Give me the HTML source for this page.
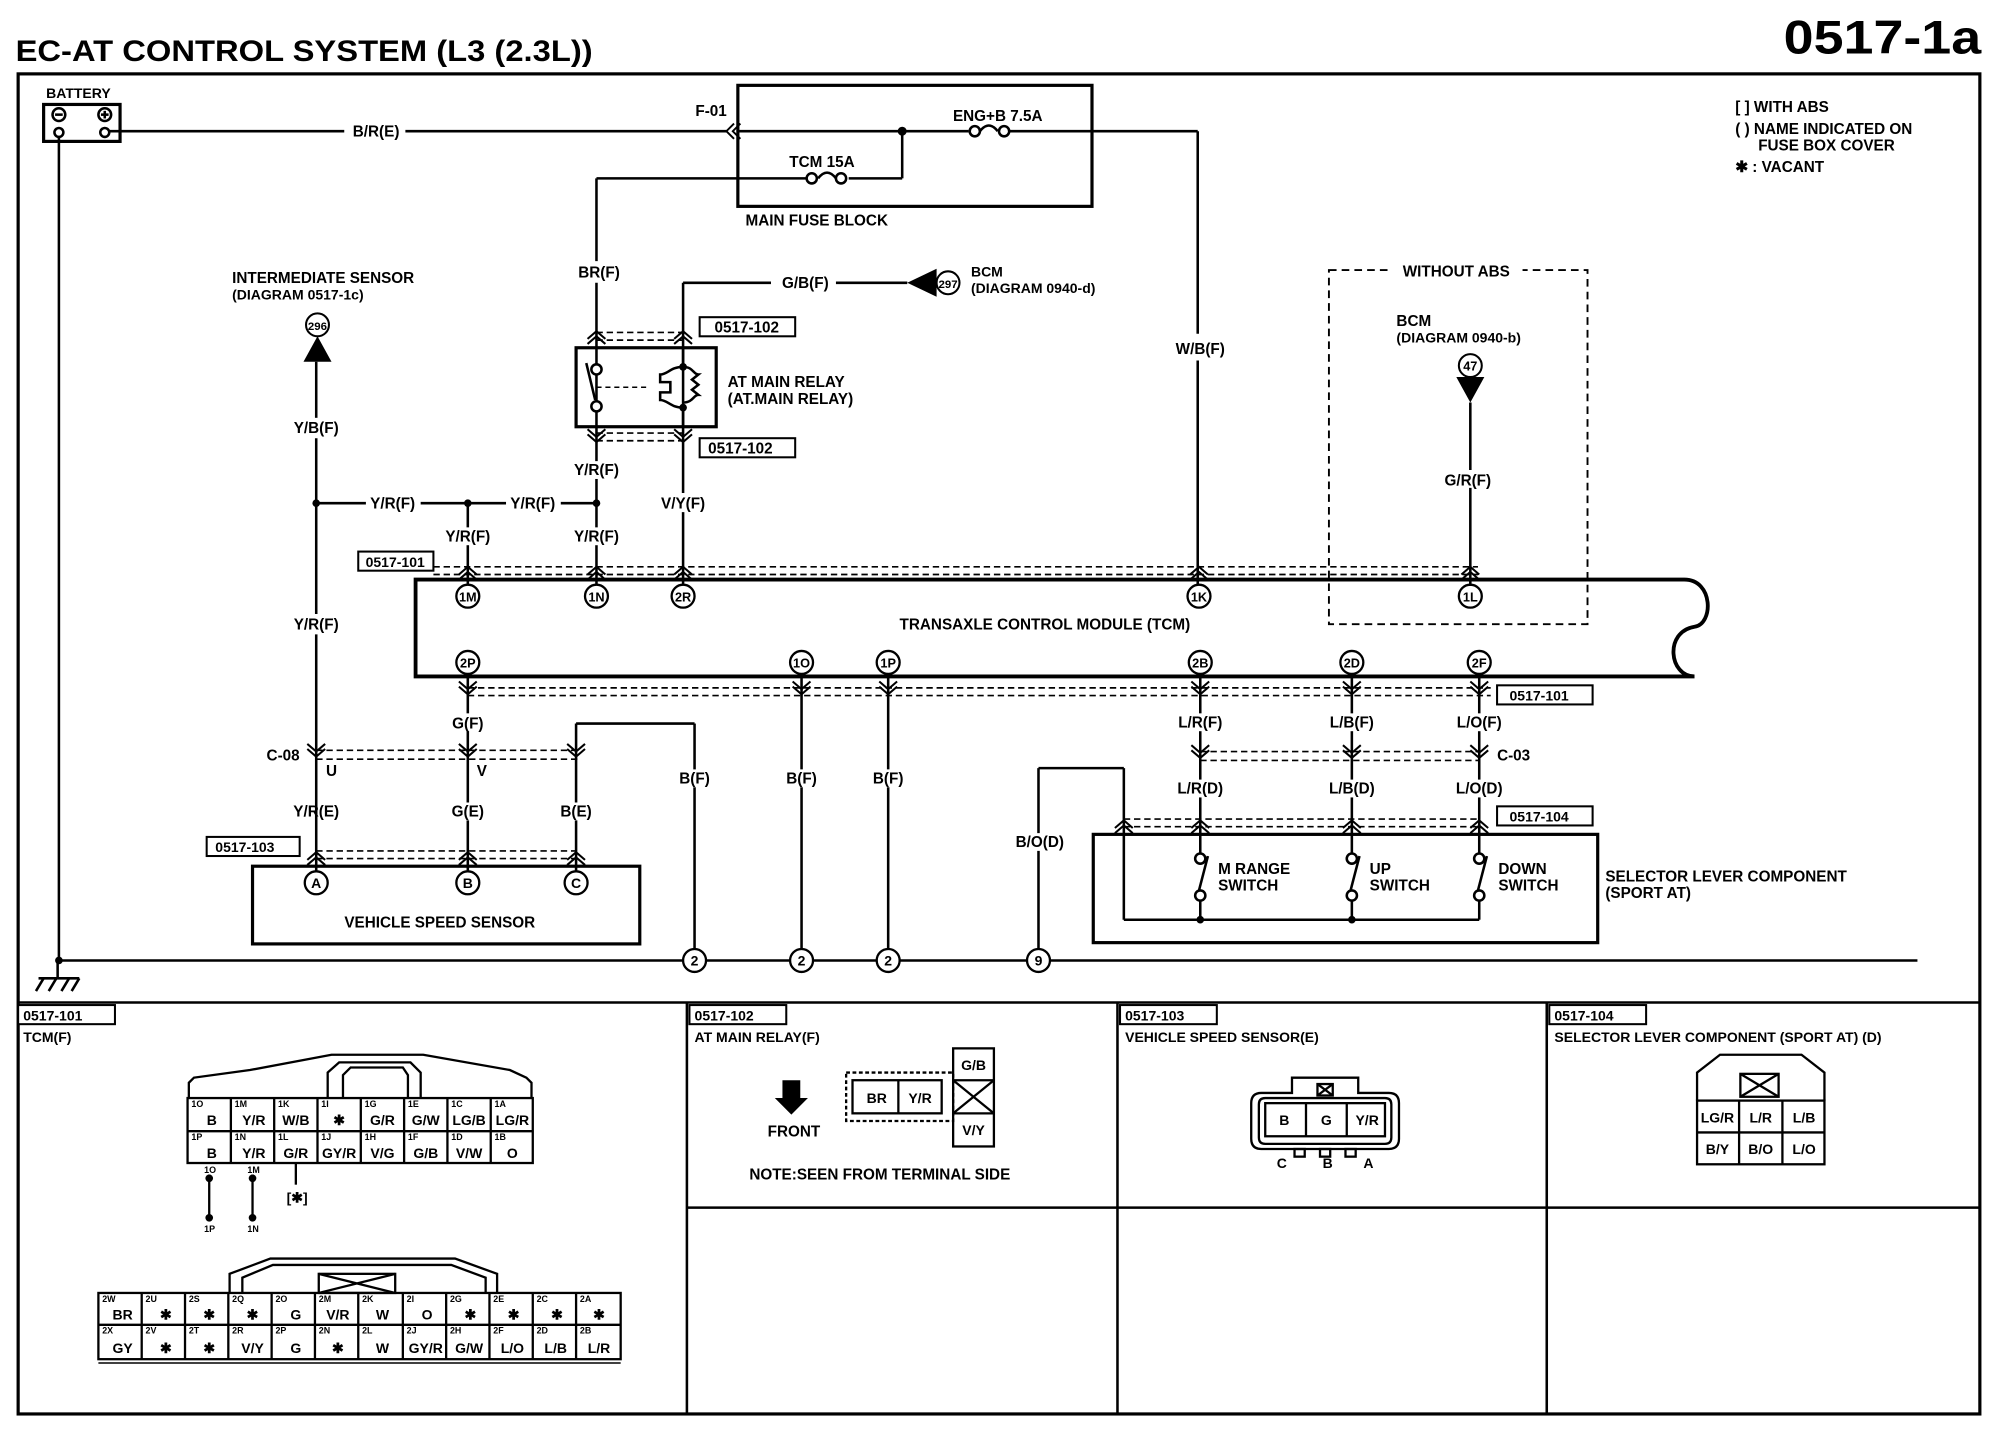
<!DOCTYPE html>
<html><head><meta charset="utf-8"><style>
html,body{margin:0;padding:0;background:#fff;}
svg{display:block;}
text{font-family:"Liberation Sans",Arial,sans-serif;font-weight:bold;fill:#000;}
</style></head><body>
<svg width="1998" height="1456" viewBox="0 0 1568 1143" xmlns="http://www.w3.org/2000/svg">
<defs>
<path id="up" d="M-7,4 L0,-2 L7,4 M-7,8 L0,2 L7,8" fill="none" stroke="#000" stroke-width="1.6"/>
<path id="dn" d="M-7,-4 L0,2 L7,-4 M-7,-8 L0,-2 L7,-8" fill="none" stroke="#000" stroke-width="1.6"/>
</defs>
<rect width="1568" height="1143" fill="#fff"/>
<text x="12" y="48" font-size="23" textLength="453" lengthAdjust="spacingAndGlyphs">EC-AT CONTROL SYSTEM (L3 (2.3L))</text>
<text x="1400" y="42" font-size="37" textLength="155" lengthAdjust="spacingAndGlyphs">0517-1a</text>
<g fill="none" stroke="#000">
<rect x="14" y="58" width="1540" height="1052" stroke-width="2.5"/>
<line x1="14" y1="787" x2="1554" y2="787" stroke-width="2"/>
<line x1="539" y1="787" x2="539" y2="1110" stroke-width="2"/>
<line x1="877" y1="787" x2="877" y2="1110" stroke-width="2"/>
<line x1="1214" y1="787" x2="1214" y2="1110" stroke-width="2"/>
<line x1="539" y1="948" x2="1554" y2="948" stroke-width="2"/>
</g>
<g font-size="12">
<text x="1362" y="88">[ ] WITH ABS</text>
<text x="1362" y="105">( ) NAME INDICATED ON</text>
<text x="1380" y="118">FUSE BOX COVER</text>
<text x="1362" y="135">✱ : VACANT</text>
</g>
<text x="36" y="77" font-size="11">BATTERY</text>
<g fill="none" stroke="#000" stroke-width="2">
<rect x="34" y="82" width="60" height="29" stroke-width="2.5"/>
<circle cx="46" cy="90" r="5"/><line x1="43" y1="90" x2="49" y2="90"/>
<circle cx="82" cy="90" r="5"/><line x1="79" y1="90" x2="85" y2="90"/><line x1="82" y1="87" x2="82" y2="93"/>
<circle cx="46" cy="104" r="3.5"/><circle cx="82" cy="104" r="3.5"/>
<line x1="46" y1="108" x2="46" y2="754"/>
<line x1="86" y1="103" x2="270" y2="103"/><line x1="318" y1="103" x2="570" y2="103"/>
<path d="M576,97 L570,103 L576,109 M581,97 L575,103 L581,109" stroke-width="1.5"/>
<line x1="45" y1="754" x2="1505" y2="754"/>
<line x1="45" y1="754" x2="45" y2="768"/>
<line x1="30" y1="768" x2="62" y2="768"/>
<path d="M34,768 L28,778 M44,768 L38,778 M54,768 L48,778 M62,768 L56,778"/>
</g>
<circle cx="46" cy="754" r="3" fill="#000"/>
<text x="295" y="107" font-size="12" text-anchor="middle">B/R(E)</text>
<g fill="none" stroke="#000" stroke-width="2">
<rect x="579" y="67" width="278" height="95" stroke-width="2.5"/>
<line x1="580" y1="103" x2="760" y2="103"/>
<circle cx="765" cy="103" r="4"/><path d="M769,103 q7,-9 14,0 q0,0 0,0"/><circle cx="788" cy="103" r="4"/>
<line x1="792" y1="103" x2="940" y2="103"/>
<line x1="708" y1="103" x2="708" y2="140"/>
<line x1="708" y1="140" x2="666" y2="140"/>
<circle cx="660" cy="140" r="4"/><path d="M642,140 q7,-9 14,0"/><circle cx="637" cy="140" r="4"/>
<line x1="633" y1="140" x2="468" y2="140"/>
<line x1="940" y1="103" x2="940" y2="262"/><line x1="940" y1="283" x2="940" y2="460"/>
</g>
<circle cx="708" cy="103" r="3.5"/>
<text x="558" y="91" font-size="12" text-anchor="middle">F-01</text>
<text x="783" y="95" font-size="12" text-anchor="middle">ENG+B 7.5A</text>
<text x="645" y="131" font-size="12" text-anchor="middle">TCM 15A</text>
<text x="585" y="177" font-size="12">MAIN FUSE BLOCK</text>
<text x="942" y="278" font-size="12" text-anchor="middle">W/B(F)</text>
<g fill="none" stroke="#000" stroke-width="2">
<line x1="468" y1="140" x2="468" y2="205"/><line x1="468" y1="222" x2="468" y2="362"/><line x1="468" y1="376" x2="468" y2="414"/><line x1="468" y1="428" x2="468" y2="460"/>
<line x1="536" y1="222" x2="536" y2="387"/><line x1="536" y1="402" x2="536" y2="460"/>
<line x1="536" y1="222" x2="605" y2="222"/><line x1="656" y1="222" x2="712" y2="222"/>
<rect x="452" y="273" width="110" height="62" stroke-width="2.5"/>
<circle cx="468" cy="290" r="4" fill="#fff"/><circle cx="468" cy="319" r="4" fill="#fff"/>
<line x1="460" y1="285" x2="467" y2="314"/>
<line x1="468" y1="304" x2="510" y2="304" stroke-dasharray="4,3" stroke-width="1.2"/>
<path d="M536,288 c-10,0 -12,6 -18,6 v6 h8 v8 h-8 v6 c6,0 8,6 18,6 M536,288 c8,0 8,6 12,6 l-5,4 l5,4 l-5,4 l5,4 c-4,0 -4,6 -12,6"/>
<line x1="536" y1="273" x2="536" y2="288"/><line x1="536" y1="320" x2="536" y2="335"/>
<line x1="468" y1="261" x2="536" y2="261" stroke-dasharray="5,3" stroke-width="1.3"/><line x1="468" y1="267" x2="536" y2="267" stroke-dasharray="5,3" stroke-width="1.3"/>
<line x1="468" y1="340" x2="536" y2="340" stroke-dasharray="5,3" stroke-width="1.3"/><line x1="468" y1="346" x2="536" y2="346" stroke-dasharray="5,3" stroke-width="1.3"/>
<rect x="549" y="249" width="75" height="15" stroke-width="1.6"/>
<rect x="549" y="344" width="75" height="15" stroke-width="1.6"/>
</g>
<circle cx="536" cy="288" r="3" /><circle cx="536" cy="320" r="3"/>
<use href="#up" x="468" y="262"/><use href="#up" x="536" y="262"/>
<use href="#dn" x="468" y="345"/><use href="#dn" x="536" y="345"/>
<path d="M712,222 L735,211 L735,233 Z"/>
<circle cx="744" cy="222" r="9" fill="#fff" stroke="#000" stroke-width="1.6"/>
<text x="744" y="226" font-size="9" text-anchor="middle">297</text>
<text x="632" y="226" font-size="12" text-anchor="middle">G/B(F)</text>
<text x="762" y="217" font-size="11">BCM</text>
<text x="762" y="230" font-size="11">(DIAGRAM 0940-d)</text>
<text x="470" y="218" font-size="12" text-anchor="middle">BR(F)</text>
<text x="586" y="261" font-size="12" text-anchor="middle">0517-102</text>
<text x="581" y="356" font-size="12" text-anchor="middle">0517-102</text>
<text x="571" y="304" font-size="12">AT MAIN RELAY</text>
<text x="571" y="317" font-size="12">(AT.MAIN RELAY)</text>
<text x="468" y="373" font-size="12" text-anchor="middle">Y/R(F)</text>
<text x="536" y="399" font-size="12" text-anchor="middle">V/Y(F)</text>
<text x="182" y="222" font-size="12">INTERMEDIATE SENSOR</text>
<text x="182" y="235" font-size="11">(DIAGRAM 0517-1c)</text>
<circle cx="249" cy="255" r="9" fill="#fff" stroke="#000" stroke-width="1.6"/>
<text x="249" y="259" font-size="9" text-anchor="middle">296</text>
<path d="M249,264 L238,284 L260,284 Z"/>
<g fill="none" stroke="#000" stroke-width="2">
<line x1="248" y1="284" x2="248" y2="328"/><line x1="248" y1="344" x2="248" y2="482"/><line x1="248" y1="498" x2="248" y2="693"/>
<line x1="248" y1="395" x2="287" y2="395"/><line x1="330" y1="395" x2="397" y2="395"/><line x1="440" y1="395" x2="468" y2="395"/>
<line x1="367" y1="395" x2="367" y2="414"/><line x1="367" y1="428" x2="367" y2="460"/>
</g>
<circle cx="248" cy="395" r="3"/><circle cx="367" cy="395" r="3"/><circle cx="468" cy="395" r="3"/>
<g font-size="12" text-anchor="middle">
<text x="248" y="340">Y/B(F)</text>
<text x="308" y="399">Y/R(F)</text>
<text x="418" y="399">Y/R(F)</text>
<text x="367" y="425">Y/R(F)</text>
<text x="468" y="425">Y/R(F)</text>
<text x="248" y="494">Y/R(F)</text>
</g>
<g fill="none" stroke="#000" stroke-width="1.3" stroke-dasharray="5,3">
<line x1="340" y1="445" x2="1160" y2="445"/><line x1="340" y1="451" x2="1160" y2="451"/>
<line x1="367" y1="540" x2="1170" y2="540"/><line x1="367" y1="546" x2="1170" y2="546"/>
</g>
<rect x="281" y="433" width="59" height="15" fill="#fff" stroke="#000" stroke-width="1.6"/>
<text x="310" y="445" font-size="11" text-anchor="middle">0517-101</text>
<use href="#up" x="367" y="447"/><use href="#up" x="468" y="447"/><use href="#up" x="536" y="447"/><use href="#up" x="941" y="447"/><use href="#up" x="1154" y="447"/>
<path d="M326,455 H1322 C1345,455 1345,490 1330,492 C1306,496 1310,531 1330,531 H326 Z" fill="none" stroke="#000" stroke-width="3"/>
<text x="820" y="494" font-size="12" text-anchor="middle">TRANSAXLE CONTROL MODULE (TCM)</text>
<g fill="#fff" stroke="#000" stroke-width="1.8">
<circle cx="367" cy="468" r="9"/><circle cx="468" cy="468" r="9"/><circle cx="536" cy="468" r="9"/><circle cx="941" cy="468" r="9"/><circle cx="1154" cy="468" r="9"/>
<circle cx="367" cy="520" r="9"/><circle cx="629" cy="520" r="9"/><circle cx="697" cy="520" r="9"/><circle cx="942" cy="520" r="9"/><circle cx="1061" cy="520" r="9"/><circle cx="1161" cy="520" r="9"/>
</g>
<g font-size="10" text-anchor="middle">
<text x="367" y="472">1M</text><text x="468" y="472">1N</text><text x="536" y="472">2R</text><text x="941" y="472">1K</text><text x="1154" y="472">1L</text>
<text x="367" y="524">2P</text><text x="629" y="524">1O</text><text x="697" y="524">1P</text><text x="942" y="524">2B</text><text x="1061" y="524">2D</text><text x="1161" y="524">2F</text>
</g>
<rect x="1043" y="212" width="203" height="278" fill="none" stroke="#000" stroke-width="1.5" stroke-dasharray="6,4"/>
<rect x="1090" y="205" width="105" height="14" fill="#fff"/>
<text x="1143" y="217" font-size="12" text-anchor="middle">WITHOUT ABS</text>
<text x="1096" y="256" font-size="12">BCM</text>
<text x="1096" y="269" font-size="11">(DIAGRAM 0940-b)</text>
<circle cx="1154" cy="287" r="9" fill="#fff" stroke="#000" stroke-width="1.6"/>
<text x="1154" y="291" font-size="10" text-anchor="middle">47</text>
<path d="M1143,296 L1165,296 L1154,316 Z"/>
<line x1="1154" y1="316" x2="1154" y2="369" stroke="#000" stroke-width="2"/><line x1="1154" y1="383" x2="1154" y2="460" stroke="#000" stroke-width="2"/>
<text x="1152" y="381" font-size="12" text-anchor="middle">G/R(F)</text>
<g fill="none" stroke="#000" stroke-width="2">
<line x1="367" y1="529" x2="367" y2="560"/><line x1="367" y1="574" x2="367" y2="630"/><line x1="367" y1="644" x2="367" y2="686"/>
<line x1="452" y1="568" x2="452" y2="630"/><line x1="452" y1="644" x2="452" y2="686"/>
<line x1="452" y1="568" x2="545" y2="568"/><line x1="545" y1="568" x2="545" y2="604"/><line x1="545" y1="618" x2="545" y2="745"/>
<line x1="629" y1="529" x2="629" y2="604"/><line x1="629" y1="618" x2="629" y2="745"/>
<line x1="697" y1="529" x2="697" y2="604"/><line x1="697" y1="618" x2="697" y2="745"/>
<line x1="815" y1="603" x2="815" y2="654"/><line x1="815" y1="668" x2="815" y2="745"/>
<line x1="815" y1="603" x2="882" y2="603"/><line x1="882" y1="603" x2="882" y2="722"/>
<line x1="882" y1="722" x2="1161" y2="722"/>
<line x1="942" y1="529" x2="942" y2="560"/><line x1="942" y1="574" x2="942" y2="612"/><line x1="942" y1="626" x2="942" y2="670"/>
<line x1="1061" y1="529" x2="1061" y2="560"/><line x1="1061" y1="574" x2="1061" y2="612"/><line x1="1061" y1="626" x2="1061" y2="670"/>
<line x1="1161" y1="529" x2="1161" y2="560"/><line x1="1161" y1="574" x2="1161" y2="612"/><line x1="1161" y1="626" x2="1161" y2="670"/>
<line x1="942" y1="706" x2="942" y2="722"/><line x1="1061" y1="706" x2="1061" y2="722"/><line x1="1161" y1="706" x2="1161" y2="722"/>
<circle cx="942" cy="674" r="4" fill="#fff"/><circle cx="942" cy="703" r="4" fill="#fff"/><line x1="948" y1="672" x2="941" y2="699"/>
<circle cx="1061" cy="674" r="4" fill="#fff"/><circle cx="1061" cy="703" r="4" fill="#fff"/><line x1="1067" y1="672" x2="1060" y2="699"/>
<circle cx="1161" cy="674" r="4" fill="#fff"/><circle cx="1161" cy="703" r="4" fill="#fff"/><line x1="1167" y1="672" x2="1160" y2="699"/>
<rect x="858" y="655" width="396" height="85" stroke-width="2.5"/>
<rect x="198" y="680" width="304" height="61" stroke-width="2.5"/>
</g>
<circle cx="942" cy="722" r="3"/><circle cx="1061" cy="722" r="3"/>
<g fill="none" stroke="#000" stroke-width="1.3" stroke-dasharray="5,3">
<line x1="248" y1="589" x2="455" y2="589"/><line x1="248" y1="596" x2="455" y2="596"/>
<line x1="248" y1="668" x2="452" y2="668"/><line x1="248" y1="674" x2="452" y2="674"/>
<line x1="942" y1="590" x2="1161" y2="590"/><line x1="942" y1="597" x2="1161" y2="597"/>
<line x1="882" y1="643" x2="1161" y2="643"/><line x1="882" y1="649" x2="1161" y2="649"/>
</g>
<use href="#dn" x="367" y="543"/><use href="#dn" x="629" y="543"/><use href="#dn" x="697" y="543"/><use href="#dn" x="942" y="543"/><use href="#dn" x="1061" y="543"/><use href="#dn" x="1161" y="543"/>
<use href="#dn" x="248" y="592"/><use href="#dn" x="367" y="592"/><use href="#dn" x="452" y="592"/>
<use href="#dn" x="942" y="593"/><use href="#dn" x="1061" y="593"/><use href="#dn" x="1161" y="593"/>
<use href="#up" x="248" y="671"/><use href="#up" x="367" y="671"/><use href="#up" x="452" y="671"/>
<use href="#up" x="882" y="646"/><use href="#up" x="942" y="646"/><use href="#up" x="1061" y="646"/><use href="#up" x="1161" y="646"/>
<rect x="1175" y="538" width="75" height="15" fill="#fff" stroke="#000" stroke-width="1.6"/>
<text x="1208" y="550" font-size="11" text-anchor="middle">0517-101</text>
<rect x="1175" y="633" width="75" height="15" fill="#fff" stroke="#000" stroke-width="1.6"/>
<text x="1208" y="645" font-size="11" text-anchor="middle">0517-104</text>
<rect x="162" y="657" width="73" height="15" fill="#fff" stroke="#000" stroke-width="1.6"/>
<text x="192" y="669" font-size="11" text-anchor="middle">0517-103</text>
<g font-size="12" text-anchor="middle">
<text x="367" y="572">G(F)</text><text x="222" y="597">C-08</text><text x="260" y="609">U</text><text x="378" y="609">V</text>
<text x="248" y="641">Y/R(E)</text><text x="367" y="641">G(E)</text><text x="452" y="641">B(E)</text>
<text x="545" y="615">B(F)</text><text x="629" y="615">B(F)</text><text x="697" y="615">B(F)</text>
<text x="816" y="665">B/O(D)</text>
<text x="942" y="571">L/R(F)</text><text x="1061" y="571">L/B(F)</text><text x="1161" y="571">L/O(F)</text>
<text x="1188" y="597">C-03</text>
<text x="942" y="623">L/R(D)</text><text x="1061" y="623">L/B(D)</text><text x="1161" y="623">L/O(D)</text>
<text x="345" y="728">VEHICLE SPEED SENSOR</text>
</g>
<g font-size="12">
<text x="956" y="686">M RANGE</text><text x="956" y="699">SWITCH</text>
<text x="1075" y="686">UP</text><text x="1075" y="699">SWITCH</text>
<text x="1176" y="686">DOWN</text><text x="1176" y="699">SWITCH</text>
<text x="1260" y="692">SELECTOR LEVER COMPONENT</text><text x="1260" y="705">(SPORT AT)</text>
</g>
<g fill="#fff" stroke="#000" stroke-width="1.8">
<circle cx="248" cy="693" r="9"/><circle cx="367" cy="693" r="9"/><circle cx="452" cy="693" r="9"/>
<circle cx="545" cy="754" r="9"/><circle cx="629" cy="754" r="9"/><circle cx="697" cy="754" r="9"/><circle cx="815" cy="754" r="9"/>
</g>
<g font-size="11" text-anchor="middle">
<text x="248" y="697">A</text><text x="367" y="697">B</text><text x="452" y="697">C</text>
<text x="545" y="758">2</text><text x="629" y="758">2</text><text x="697" y="758">2</text><text x="815" y="758">9</text>
</g>
<g fill="#fff" stroke="#000" stroke-width="1.6">
<rect x="14" y="789" width="76" height="15"/><rect x="541" y="789" width="76" height="15"/><rect x="879" y="789" width="76" height="15"/><rect x="1216" y="789" width="76" height="15"/>
</g>
<g font-size="11">
<text x="18" y="801">0517-101</text><text x="18" y="818">TCM(F)</text>
<text x="545" y="801">0517-102</text><text x="545" y="818">AT MAIN RELAY(F)</text>
<text x="883" y="801">0517-103</text><text x="883" y="818">VEHICLE SPEED SENSOR(E)</text>
<text x="1220" y="801">0517-104</text><text x="1220" y="818">SELECTOR LEVER COMPONENT (SPORT AT) (D)</text>
</g>
<g fill="none" stroke="#000" stroke-width="1.8">
<path d="M148,862 V850 L152,846 L196,840 L260,828 H332 L400,840 L413,846 L417,850 V862"/>
<path d="M257,862 V842 L266,834 H322 L330,842 V862 M269,862 V844 L275,838 H316 L320,844 V862"/>
<rect x="147" y="862" width="271" height="51"/>
<line x1="147" y1="888" x2="418" y2="888"/>
<line x1="181" y1="862" x2="181" y2="913"/><line x1="215" y1="862" x2="215" y2="913"/><line x1="249" y1="862" x2="249" y2="913"/><line x1="283" y1="862" x2="283" y2="913"/><line x1="317" y1="862" x2="317" y2="913"/><line x1="351" y1="862" x2="351" y2="913"/><line x1="385" y1="862" x2="385" y2="913"/>
<line x1="164" y1="922" x2="164" y2="958"/><line x1="198" y1="922" x2="198" y2="958"/><line x1="232" y1="913" x2="232" y2="930"/>
</g>
<circle cx="164" cy="925" r="3"/><circle cx="164" cy="956" r="3"/><circle cx="198" cy="925" r="3"/><circle cx="198" cy="956" r="3"/>
<g font-size="7"><text x="150" y="869">1O</text><text x="184" y="869">1M</text><text x="218" y="869">1K</text><text x="252" y="869">1I</text><text x="286" y="869">1G</text><text x="320" y="869">1E</text><text x="354" y="869">1C</text><text x="388" y="869">1A</text>
<text x="150" y="895">1P</text><text x="184" y="895">1N</text><text x="218" y="895">1L</text><text x="252" y="895">1J</text><text x="286" y="895">1H</text><text x="320" y="895">1F</text><text x="354" y="895">1D</text><text x="388" y="895">1B</text>
<text x="160" y="921">1O</text><text x="194" y="921">1M</text><text x="160" y="967">1P</text><text x="194" y="967">1N</text></g>
<g font-size="11" text-anchor="middle"><text x="166" y="883">B</text><text x="199" y="883">Y/R</text><text x="232" y="883">W/B</text><text x="266" y="883">✱</text><text x="300" y="883">G/R</text><text x="334" y="883">G/W</text><text x="368" y="883">LG/B</text><text x="402" y="883">LG/R</text>
<text x="166" y="909">B</text><text x="199" y="909">Y/R</text><text x="232" y="909">G/R</text><text x="266" y="909">GY/R</text><text x="300" y="909">V/G</text><text x="334" y="909">G/B</text><text x="368" y="909">V/W</text><text x="402" y="909">O</text>
<text x="233" y="944">[✱]</text></g>
<g fill="none" stroke="#000" stroke-width="1.8">
<rect x="77" y="1015" width="410" height="52"/>
<line x1="77" y1="1040" x2="487" y2="1040"/>
<line x1="111" y1="1015" x2="111" y2="1067"/><line x1="145" y1="1015" x2="145" y2="1067"/><line x1="179" y1="1015" x2="179" y2="1067"/><line x1="213" y1="1015" x2="213" y2="1067"/><line x1="247" y1="1015" x2="247" y2="1067"/><line x1="281" y1="1015" x2="281" y2="1067"/><line x1="316" y1="1015" x2="316" y2="1067"/><line x1="350" y1="1015" x2="350" y2="1067"/><line x1="384" y1="1015" x2="384" y2="1067"/><line x1="418" y1="1015" x2="418" y2="1067"/><line x1="452" y1="1015" x2="452" y2="1067"/>
<path d="M180,1015 V1000 L212,988 H357 L390,1000 V1015 M190,1015 V1003 L214,993 H354 L381,1003 V1015"/>
<rect x="250" y="1000" width="60" height="15"/><path d="M250,1000 L310,1015 M310,1000 L250,1015"/>
<line x1="77" y1="1070" x2="487" y2="1070" stroke-width="1.2"/>
</g>
<g font-size="7"><text x="80" y="1022">2W</text><text x="114" y="1022">2U</text><text x="148" y="1022">2S</text><text x="182" y="1022">2Q</text><text x="216" y="1022">2O</text><text x="250" y="1022">2M</text><text x="284" y="1022">2K</text><text x="319" y="1022">2I</text><text x="353" y="1022">2G</text><text x="387" y="1022">2E</text><text x="421" y="1022">2C</text><text x="455" y="1022">2A</text>
<text x="80" y="1047">2X</text><text x="114" y="1047">2V</text><text x="148" y="1047">2T</text><text x="182" y="1047">2R</text><text x="216" y="1047">2P</text><text x="250" y="1047">2N</text><text x="284" y="1047">2L</text><text x="319" y="1047">2J</text><text x="353" y="1047">2H</text><text x="387" y="1047">2F</text><text x="421" y="1047">2D</text><text x="455" y="1047">2B</text></g>
<g font-size="11" text-anchor="middle"><text x="96" y="1036">BR</text><text x="130" y="1036">✱</text><text x="164" y="1036">✱</text><text x="198" y="1036">✱</text><text x="232" y="1036">G</text><text x="265" y="1036">V/R</text><text x="300" y="1036">W</text><text x="335" y="1036">O</text><text x="369" y="1036">✱</text><text x="403" y="1036">✱</text><text x="437" y="1036">✱</text><text x="470" y="1036">✱</text>
<text x="96" y="1062">GY</text><text x="130" y="1062">✱</text><text x="164" y="1062">✱</text><text x="198" y="1062">V/Y</text><text x="232" y="1062">G</text><text x="265" y="1062">✱</text><text x="300" y="1062">W</text><text x="334" y="1062">GY/R</text><text x="368" y="1062">G/W</text><text x="402" y="1062">L/O</text><text x="436" y="1062">L/B</text><text x="470" y="1062">L/R</text></g>
<path d="M614,848 h14 v14 h6 l-13,13 l-13,-13 h6 Z"/>
<text x="623" y="892" font-size="12" text-anchor="middle">FRONT</text>
<g fill="none" stroke="#000" stroke-width="1.8">
<rect x="664" y="842" width="84" height="38" stroke-dasharray="3,2"/>
<rect x="669" y="848" width="70" height="26"/><line x1="705" y1="848" x2="705" y2="874"/>
<rect x="748" y="823" width="32" height="77"/><line x1="748" y1="848" x2="780" y2="848"/><line x1="748" y1="874" x2="780" y2="874"/>
<path d="M748,848 L780,874 M780,848 L748,874"/>
</g>
<g font-size="11" text-anchor="middle"><text x="688" y="866">BR</text><text x="722" y="866">Y/R</text><text x="764" y="840">G/B</text><text x="764" y="891">V/Y</text></g>
<text x="588" y="926" font-size="12">NOTE:SEEN FROM TERMINAL SIDE</text>
<g fill="none" stroke="#000" stroke-width="1.8">
<path d="M990,858 h24 v-12 h52 v12 h24 q8,0 8,8 v28 q0,8 -8,8 h-100 q-8,0 -8,-8 v-28 q0,-8 8,-8 Z"/>
<path d="M993,862 h94 q5,0 5,5 v26 q0,5 -5,5 h-94 q-5,0 -5,-5 v-26 q0,-5 5,-5 Z"/>
<rect x="993" y="866" width="94" height="26"/>
<line x1="1025" y1="866" x2="1025" y2="892"/><line x1="1057" y1="866" x2="1057" y2="892"/>
<rect x="1034" y="851" width="12" height="9"/><path d="M1034,851 L1046,860 M1046,851 L1034,860"/>
<rect x="1016" y="902" width="8" height="6"/><rect x="1036" y="902" width="8" height="6"/><rect x="1056" y="902" width="8" height="6"/>
</g>
<g font-size="11" text-anchor="middle"><text x="1008" y="883">B</text><text x="1041" y="883">G</text><text x="1073" y="883">Y/R</text><text x="1006" y="917">C</text><text x="1042" y="917">B</text><text x="1074" y="917">A</text></g>
<g fill="none" stroke="#000" stroke-width="1.8">
<path d="M1332,864 V842 L1350,828 H1414 L1432,842 V864"/>
<rect x="1332" y="864" width="100" height="50"/>
<line x1="1332" y1="889" x2="1432" y2="889"/><line x1="1365" y1="864" x2="1365" y2="914"/><line x1="1399" y1="864" x2="1399" y2="914"/>
<rect x="1366" y="843" width="30" height="18"/><path d="M1366,843 L1396,861 M1396,843 L1366,861"/>
</g>
<g font-size="11" text-anchor="middle"><text x="1348" y="881">LG/R</text><text x="1382" y="881">L/R</text><text x="1416" y="881">L/B</text><text x="1348" y="906">B/Y</text><text x="1382" y="906">B/O</text><text x="1416" y="906">L/O</text></g>
</svg>
</body></html>
